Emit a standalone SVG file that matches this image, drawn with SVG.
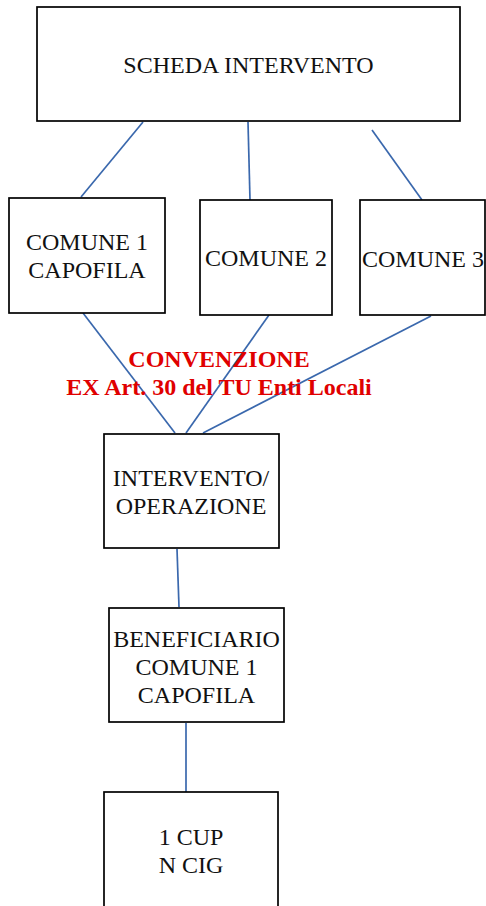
<svg xmlns="http://www.w3.org/2000/svg" width="486" height="906" viewBox="0 0 486 906">
<style>
.box{fill:#fff;stroke:#000;stroke-width:1.7}
.t{font-family:"Liberation Serif","Times New Roman",serif;font-size:24px;fill:#111;text-anchor:middle}
.r{font-family:"Liberation Serif","Times New Roman",serif;font-size:24px;font-weight:bold;fill:#e00000;text-anchor:middle}
.c{stroke:#3a68ad;stroke-width:1.7;fill:none}
</style>
<rect width="486" height="906" fill="#fff"/>
<g id="connectors">
<line class="c" x1="143" y1="122" x2="81" y2="197"/>
<line class="c" x1="248" y1="122" x2="250" y2="200"/>
<line class="c" x1="372" y1="130" x2="422" y2="200"/>
<line class="c" x1="83" y1="313" x2="175" y2="433"/>
<line class="c" x1="269" y1="315" x2="186" y2="433"/>
<line class="c" x1="431" y1="316" x2="203" y2="433"/>
<line class="c" x1="177" y1="549" x2="179" y2="607"/>
<line class="c" x1="186" y1="723" x2="186" y2="792"/>
</g>
<g id="scheda">
<rect class="box" x="37" y="7" width="423" height="114"/>
<text class="t" x="248.5" y="73">SCHEDA INTERVENTO</text>
</g>
<g id="comune1">
<rect class="box" x="9" y="198" width="156" height="115"/>
<text class="t" x="87" y="250">COMUNE 1</text>
<text class="t" x="87" y="278">CAPOFILA</text>
</g>
<g id="comune2">
<rect class="box" x="200" y="200" width="132" height="115"/>
<text class="t" x="266" y="266">COMUNE 2</text>
</g>
<g id="comune3">
<rect class="box" x="360" y="200" width="125" height="115"/>
<text class="t" x="423" y="267">COMUNE 3</text>
</g>
<g id="convenzione">
<text class="r" x="219" y="367">CONVENZIONE</text>
<text class="r" x="219" y="395">EX Art. 30 del TU Enti Locali</text>
</g>
<g id="intervento">
<rect class="box" x="104" y="434" width="175" height="114"/>
<text class="t" x="191" y="486">INTERVENTO/</text>
<text class="t" x="191" y="514">OPERAZIONE</text>
</g>
<g id="beneficiario">
<rect class="box" x="109" y="608" width="175" height="114"/>
<text class="t" x="196.5" y="647">BENEFICIARIO</text>
<text class="t" x="196.5" y="675">COMUNE 1</text>
<text class="t" x="196.5" y="703">CAPOFILA</text>
</g>
<g id="cup">
<rect class="box" x="104" y="792" width="174" height="116"/>
<text class="t" x="191" y="845">1 CUP</text>
<text class="t" x="191" y="873">N CIG</text>
</g>
</svg>
